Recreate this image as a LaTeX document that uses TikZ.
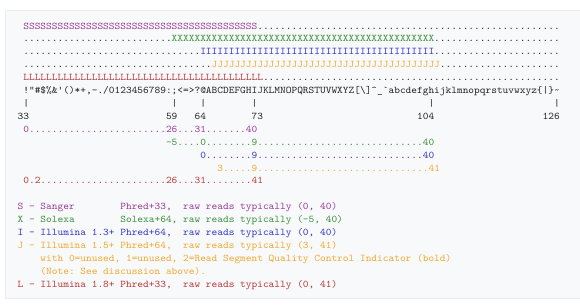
\documentclass[tikz,border=0pt]{standalone}
\usepackage{fontspec}
\usetikzlibrary{positioning}

\definecolor{sangercol}{HTML}{9A3A9A}
\definecolor{solexacol}{HTML}{3A913A}
\definecolor{illumcol}{HTML}{3535C8}
\definecolor{ilmjcol}{HTML}{F0A830}
\definecolor{ilmlcol}{HTML}{B83838}
\definecolor{inkcol}{HTML}{202122}
\definecolor{boxfill}{HTML}{F8F9FA}
\definecolor{boxline}{HTML}{EAECF0}

% a run of n equal characters
\newcommand{\chrun}[2]{\foreach \k in {1,...,#1}{#2}}
% typewriter text stretched to the 5.707pt column pitch
\newcommand{\mono}[1]{\scalebox{1.0657}[1]{#1}}

\begin{document}
\begin{tikzpicture}[x=1pt,y=-1pt,
    code/.style={font=\ttfamily\frenchspacing\fontsize{10.2}{12}\selectfont,
      text=inkcol, inner sep=0pt, anchor=base west}]
    \def\xo{23.15}\def\cw{5.707}\def\yo{29}\def\lh{12.915}
    \useasboundingbox (0,0) rectangle (580,306);
    \draw[boxline, fill=boxfill] (5,10) rectangle (590,298);

    % Ranges per encoding
    \node[code] (rowS) at ({\xo},{\yo}) {\mono{\textcolor{sangercol}{\chrun{41}{S}}\chrun{53}{.}}};
    \node[code] (rowX) at ({\xo},{\yo+\lh}) {\mono{\chrun{26}{.}\textcolor{solexacol}{\chrun{46}{X}}\chrun{22}{.}}};
    \node[code] (rowI) at ({\xo},{\yo+2*\lh}) {\mono{\chrun{31}{.}\textcolor{illumcol}{\chrun{41}{I}}\chrun{22}{.}}};
    \node[code] (rowJ) at ({\xo},{\yo+3*\lh}) {\mono{\chrun{33}{.}\textcolor{ilmjcol}{\chrun{40}{J}}\chrun{21}{.}}};
    \node[code] (rowL) at ({\xo},{\yo+4*\lh}) {\mono{\textcolor{ilmlcol}{\chrun{42}{L}}\chrun{52}{.}}};

    % ASCII characters 33..126
    \node[code] (ascii) at ({\xo},{\yo+5*\lh}) {\mono{!\textquotedbl\#\$\%\&\textquotesingle()*+,-./0123456789:;<=>?@ABCDEFGHIJKLMNOPQRSTUVWXYZ[\textbackslash]\textasciicircum\_\textasciigrave abcdefghijklmnopqrstuvwxyz\{|\}\textasciitilde}};

    % Ticks and codes
    \foreach \c/\v in {0/33,26/59,31/64,40/73,71/104,93/126}
      \node[code] (tick\v) at ({\xo+\cw*\c},{\yo+6*\lh}) {\mono{|}};
    \node[code] (code33) at ({\xo-\cw},{\yo+7*\lh}) {\mono{33}};
    \node[code] (code59) at ({\xo+\cw*25},{\yo+7*\lh}) {\mono{59}};
    \node[code] (code64) at ({\xo+\cw*30},{\yo+7*\lh}) {\mono{64}};
    \node[code] (code73) at ({\xo+\cw*40},{\yo+7*\lh}) {\mono{73}};
    \node[code] (code104) at ({\xo+\cw*69},{\yo+7*\lh}) {\mono{104}};
    \node[code] (code126) at ({\xo+\cw*91},{\yo+7*\lh}) {\mono{126}};

    % Quality scales
    \node[code, text=sangercol] (scaleS) at ({\xo},{\yo+8*\lh}) {\mono{0\chrun{24}{.}26\chrun{3}{.}31\chrun{7}{.}40}};
    \node[code, text=solexacol] (scaleX) at ({\xo+\cw*25},{\yo+9*\lh}) {\mono{-5\chrun{4}{.}0\chrun{8}{.}9\chrun{29}{.}40}};
    \node[code, text=illumcol] (scaleI) at ({\xo+\cw*31},{\yo+10*\lh}) {\mono{0\chrun{8}{.}9\chrun{29}{.}40}};
    \node[code, text=ilmjcol] (scaleJ) at ({\xo+\cw*34},{\yo+11*\lh}) {\mono{3\chrun{5}{.}9\chrun{30}{.}41}};
    \node[code, text=ilmlcol] (scaleL) at ({\xo},{\yo+12*\lh}) {\mono{0.2\chrun{22}{.}26\chrun{3}{.}31\chrun{8}{.}41}};

    % Legend
    \node[code, text=sangercol] (keyS) at ({\xo-\cw},{\yo+14*\lh}) {\mono{S - Sanger~~~~~~~~Phred+33,~~raw reads typically (0, 40)}};
    \node[code, text=solexacol] (keyX) at ({\xo-\cw},{\yo+15*\lh}) {\mono{X - Solexa~~~~~~~~Solexa+64, raw reads typically (-5, 40)}};
    \node[code, text=illumcol] (keyI) at ({\xo-\cw},{\yo+16*\lh}) {\mono{I - Illumina 1.3+ Phred+64,~~raw reads typically (0, 40)}};
    \node[code, text=ilmjcol] (keyJ) at ({\xo-\cw},{\yo+17*\lh}) {\mono{J - Illumina 1.5+ Phred+64,~~raw reads typically (3, 41)}};
    \node[code, text=ilmjcol] (keyJa) at ({\xo+\cw*3},{\yo+18*\lh}) {\mono{with 0=unused, 1=unused, 2=Read Segment Quality Control Indicator (bold)}};
    \node[code, text=ilmjcol] (keyJb) at ({\xo+\cw*3},{\yo+19*\lh}) {\mono{(Note: See discussion above).}};
    \node[code, text=ilmlcol] (keyL) at ({\xo-\cw},{\yo+20*\lh}) {\mono{L - Illumina 1.8+ Phred+33,~~raw reads typically (0, 41)}};
\end{tikzpicture}
\end{document}
